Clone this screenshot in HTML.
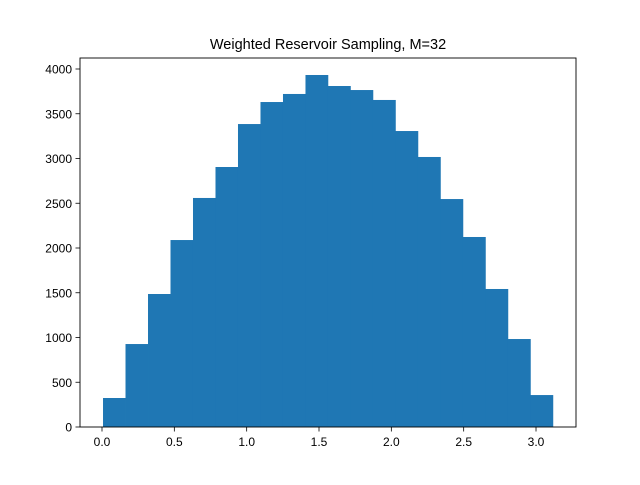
<!DOCTYPE html>
<html><head><meta charset="utf-8"><style>
body{margin:0;background:#fff}
svg text{font-family:"Liberation Sans","DejaVu Sans",sans-serif}
</style></head><body>
<svg id="chart" width="640" height="480">
<rect width="640" height="480" fill="#fff"/>
<text x="328" y="49" text-anchor="middle" font-size="14.5">Weighted Reservoir Sampling, M=32</text>
<g id="bars"></g>
<rect x="80" y="58" width="496" height="369" fill="none" stroke="#000" stroke-width="0.9"/>
<g id="xt"></g>
<g id="yt"></g>
</svg>
<script>
const counts=[324,927,1486,2089,2559,2905,3385,3631,3721,3933,3810,3765,3654,3307,3017,2547,2123,1542,983,357];
const binStart=0.007;
const binEnd=3.117;
const xTicks=[0.0,0.5,1.0,1.5,2.0,2.5,3.0];
const xTickLabels=["0.0","0.5","1.0","1.5","2.0","2.5","3.0"];
const yTicks=[0,500,1000,1500,2000,2500,3000,3500,4000];
const yTickLabels=["0","500","1000","1500","2000","2500","3000","3500","4000"];
const NS="http://www.w3.org/2000/svg";
const x=v=>102+v*144.67;
const y=v=>427-v*0.0895;
const bars=document.getElementById('bars');
const w=(binEnd-binStart)/counts.length;
counts.forEach((c,i)=>{
 const r=document.createElementNS(NS,'rect');
 const x0=x(binStart+i*w),x1=x(binStart+(i+1)*w);
 r.setAttribute('x',x0);r.setAttribute('width',x1-x0+0.3);
 r.setAttribute('y',y(c));r.setAttribute('height',y(0)-y(c));
 r.setAttribute('fill','#1f77b4');
 
 
 bars.appendChild(r);
});
const xt=document.getElementById('xt');
xTicks.forEach((t,i)=>{
 const l=document.createElementNS(NS,'line');
 l.setAttribute('x1',x(t));l.setAttribute('x2',x(t));l.setAttribute('y1',427);l.setAttribute('y2',431.5);
 l.setAttribute('stroke','#000');l.setAttribute('stroke-width','0.8');
 
 
 xt.appendChild(l);
 const tx=document.createElementNS(NS,'text');
 tx.setAttribute('x',x(t));tx.setAttribute('y',446);tx.setAttribute('text-anchor','middle');tx.setAttribute('font-size','12');
 tx.textContent=xTickLabels[i];
 
 
 xt.appendChild(tx);
});
const yt=document.getElementById('yt');
yTicks.forEach((t,i)=>{
 const l=document.createElementNS(NS,'line');
 l.setAttribute('x1',75.5);l.setAttribute('x2',80);l.setAttribute('y1',y(t));l.setAttribute('y2',y(t));
 l.setAttribute('stroke','#000');l.setAttribute('stroke-width','0.8');
 
 
 yt.appendChild(l);
 const tx=document.createElementNS(NS,'text');
 tx.setAttribute('x',72);tx.setAttribute('y',y(t)+4.5);tx.setAttribute('text-anchor','end');tx.setAttribute('font-size','12');
 tx.textContent=yTickLabels[i];
 
 
 yt.appendChild(tx);
});
</script>
</body></html>
